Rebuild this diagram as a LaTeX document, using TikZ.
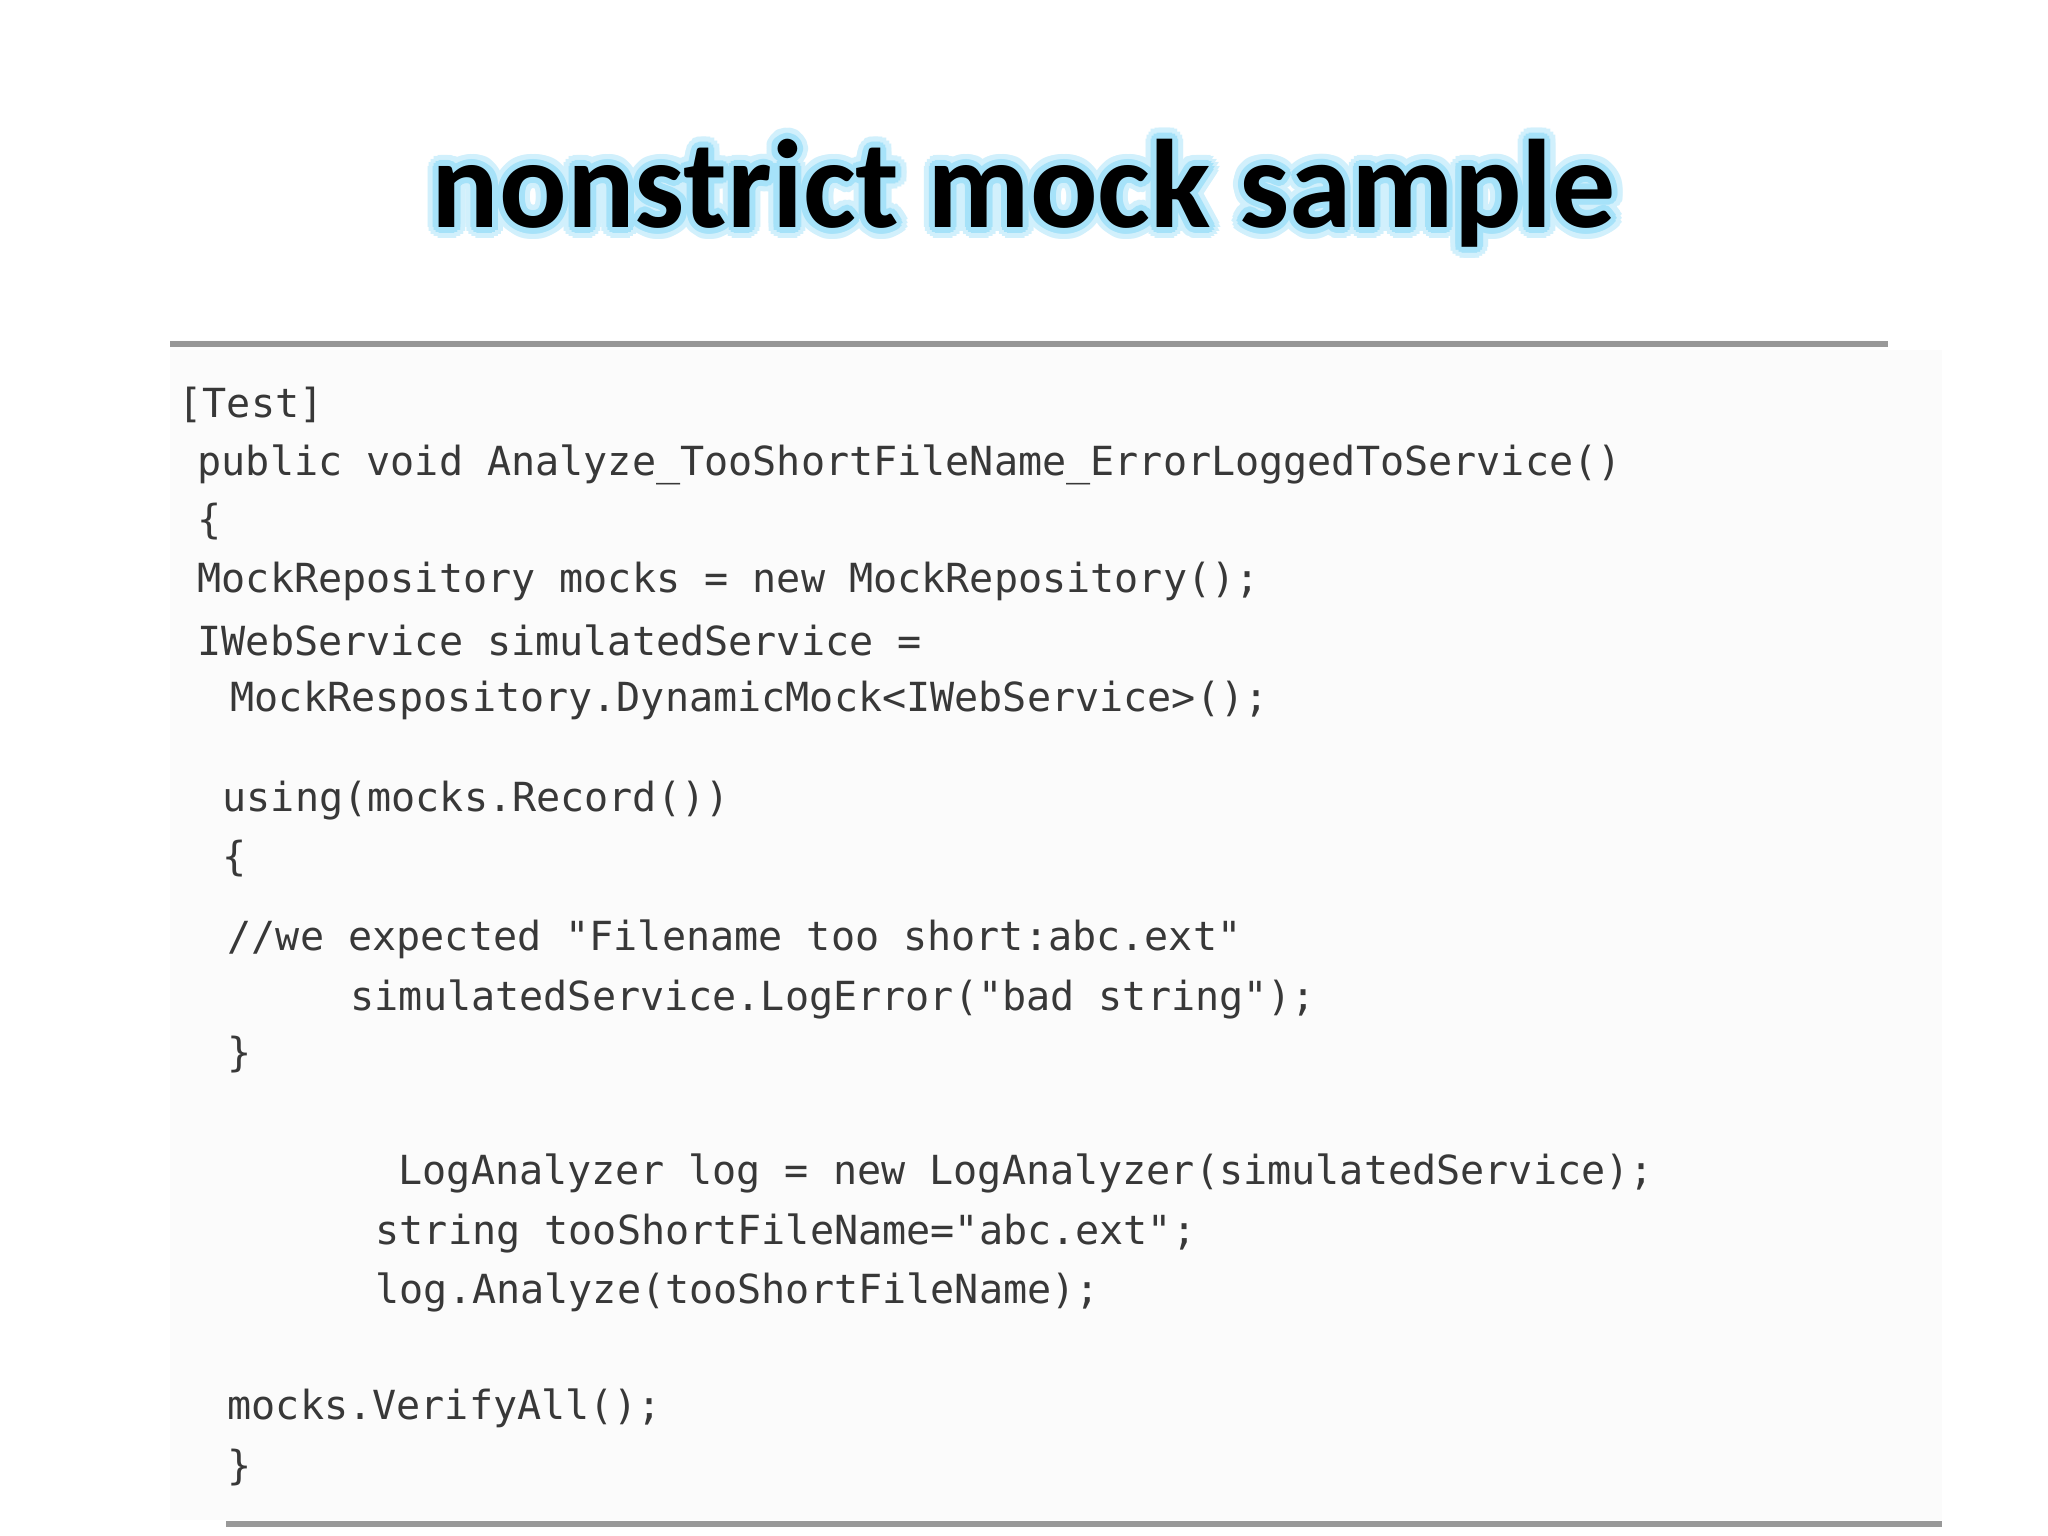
\documentclass[tikz,border=0pt]{standalone}
\usepackage{fontspec}
\setmainfont{Carlito}
\setmonofont{DejaVu Sans Mono}
\usetikzlibrary{calc}
\begin{document}
\begin{tikzpicture}[x=0.01cm,y=-0.01cm,
  code/.style={anchor=west,inner sep=0pt,text=black!78,font=\ttfamily\fontsize{11.4}{13}\selectfont},
  ttl/.style={font=\bfseries\fontsize{35.8}{42}\selectfont,inner sep=0pt},
  rulel/.style={line width=1.7pt,draw=black!40}]
\useasboundingbox (0,0) rectangle (2048,1536);
\fill[white] (0,0) rectangle (2048,1536);
\fill[black!1.5] (170,350) rectangle (1942,1520);
% title glow
\foreach \a in {0,20,...,340}{
  \node[ttl,text=cyan!18] at ($(1024,193)+(\a:11)$) {nonstrict mock sample};
}
\foreach \a in {0,30,...,330}{
  \node[ttl,text=cyan!35] at ($(1024,193)+(\a:6)$) {nonstrict mock sample};
}
\node (title) [ttl,text=black] at (1024,193) {nonstrict mock sample};
\coordinate (r1a) at (170,344); \coordinate (r1b) at (1888,344);
\coordinate (r2a) at (226,1524); \coordinate (r2b) at (1942,1524);
\draw[rulel] (r1a) -- (r1b);
\draw[rulel] (r2a) -- (r2b);
\node (l1) [code] at (178,405) {[Test]};
\node (l2) [code] at (197,465) {public void Analyze\_TooShortFileName\_ErrorLoggedToService()};
\node (l3) [code] at (197,522) {\{};
\node (l4) [code] at (197,581) {MockRepository mocks = new MockRepository();};
\node (l5) [code] at (197,640) {IWebService simulatedService =};
\node (l6) [code] at (230,700) {MockRespository.DynamicMock<IWebService>();};
\node (l7) [code] at (222,801) {using(mocks.Record())};
\node (l8) [code] at (222,859) {\{};
\node (l9) [code] at (227,939) {//we expected "Filename too short:abc.ext"};
\node (l10) [code] at (350,999) {simulatedService.LogError("bad string");};
\node (l11) [code] at (227,1055) {\}};
\node (l12) [code] at (398,1173) {LogAnalyzer log = new LogAnalyzer(simulatedService);};
\node (l13) [code] at (375,1233) {string tooShortFileName="abc.ext";};
\node (l14) [code] at (375,1292) {log.Analyze(tooShortFileName);};
\node (l15) [code] at (227,1408) {mocks.VerifyAll();};
\node (l16) [code] at (227,1468) {\}};
\end{tikzpicture}
\end{document}
